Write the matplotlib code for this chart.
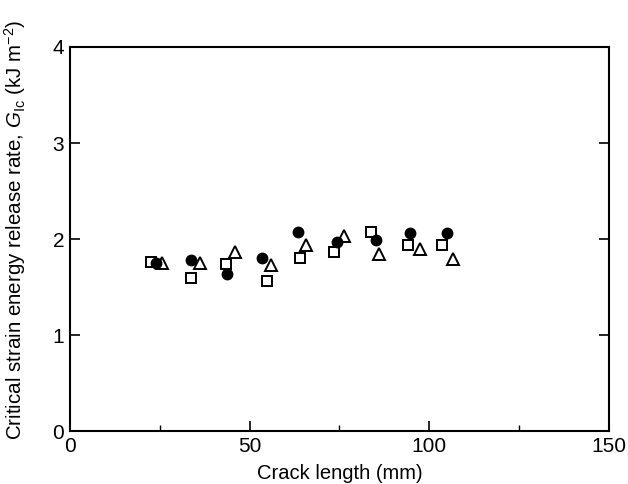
import matplotlib
matplotlib.use("Agg")
import matplotlib.pyplot as plt
from matplotlib.ticker import MultipleLocator, FixedLocator

# --- DATA ---
circle_x = [23.9, 33.6, 43.6, 53.6, 63.4, 74.4, 85.1, 94.7, 104.9]
circle_y = [1.75, 1.78, 1.64, 1.80, 2.07, 1.97, 1.99, 2.06, 2.06]

square_x = [22.5, 33.6, 43.4, 54.9, 64.0, 73.6, 83.8, 94.0, 103.6]
square_y = [1.76, 1.59, 1.74, 1.56, 1.80, 1.87, 2.07, 1.94, 1.94]

triangle_x = [25.8, 36.2, 46.1, 55.9, 65.6, 76.3, 86.0, 97.3, 106.6]
triangle_y = [1.75, 1.75, 1.87, 1.73, 1.94, 2.03, 1.84, 1.90, 1.79]

X_LABEL = "Crack length (mm)"
Y_LABEL = r"Critical strain energy release rate, $\mathit{G}_{\mathrm{Ic}}$ (kJ m$^{-2}$)"

plt.rcParams["font.family"] = ["Liberation Sans", "DejaVu Sans"]
plt.rcParams["mathtext.fontset"] = "custom"
plt.rcParams["mathtext.rm"] = "Liberation Sans"
plt.rcParams["mathtext.it"] = "Liberation Sans:italic"


def main():
    fig = plt.figure(figsize=(6.28, 4.84), dpi=100)
    ax = fig.add_axes([0.111, 0.109, 0.859, 0.794])

    ax.plot(square_x, square_y, linestyle="none", marker="s", markersize=7,
            markerfacecolor="white", markeredgecolor="black", markeredgewidth=1.4)
    ax.plot(triangle_x, triangle_y, linestyle="none", marker="^", markersize=8,
            markerfacecolor="white", markeredgecolor="black", markeredgewidth=1.4)
    ax.plot(circle_x, circle_y, linestyle="none", marker="o", markersize=7.5,
            markerfacecolor="black", markeredgecolor="black")

    ax.set_xlim(0, 150)
    ax.set_ylim(0, 4)

    ax.xaxis.set_major_locator(MultipleLocator(50))
    ax.xaxis.set_minor_locator(FixedLocator([25, 75, 125]))
    ax.yaxis.set_major_locator(MultipleLocator(1))

    ax.tick_params(axis="both", which="major", direction="in", length=7,
                   width=1.2, labelsize=15, pad=4)
    ax.tick_params(axis="x", which="minor", direction="in", length=4, width=1.0)
    ax.tick_params(axis="y", right=True)

    for sp in ax.spines.values():
        sp.set_linewidth(1.5)

    ax.set_xlabel(X_LABEL, fontsize=14.5, labelpad=6)
    ax.set_ylabel(Y_LABEL, fontsize=14.8)
    # label sits a little above the axis centre in the reference
    ax.yaxis.set_label_coords(-0.077, 0.525)

    fig.savefig("out.png", dpi=100)
    plt.close(fig)


if __name__ == "__main__":
    main()
